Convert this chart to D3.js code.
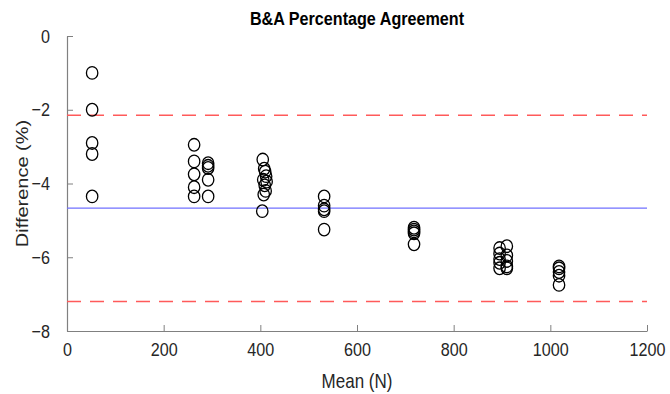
<!DOCTYPE html>
<html>
<head>
<meta charset="utf-8">
<script src="https://cdn.jsdelivr.net/npm/d3@7"></script>
<style>
  html, body { margin: 0; padding: 0; background: #fff; }
  svg { display: block; font-family: "Liberation Sans", Arial, sans-serif; }
</style>
</head>
<body>
<svg id="chart" width="670" height="394"></svg>
<script>
// Bland-Altman data: mean force (N) vs. percentage difference
const meanN = [
  52, 52, 52, 52, 52,
  263, 263, 263, 263, 263,
  292, 292, 292, 292, 292,
  405, 408, 410, 412, 406, 413, 409, 411, 407, 404,
  532, 532, 532, 532, 532,
  718, 718, 718, 718, 718,
  895, 895, 895, 895, 895,
  910, 910, 910, 910, 910,
  1018, 1018, 1018, 1018, 1018
];
const diffPct = [
  -1.0, -2.0, -2.9, -3.2, -4.35,
  -2.95, -3.4, -3.75, -4.1, -4.35,
  -3.45, -3.52, -3.58, -3.9, -4.35,
  -3.35, -3.6, -3.68, -3.8, -3.9, -3.95, -4.05, -4.2, -4.3, -4.75,
  -4.35, -4.6, -4.7, -4.75, -5.25,
  -5.2, -5.25, -5.3, -5.35, -5.65,
  -5.75, -5.9, -6.05, -6.15, -6.3,
  -5.7, -5.95, -6.1, -6.25, -6.3,
  -6.25, -6.3, -6.4, -6.5, -6.75
];
const meanBias = -4.67;
const limitsOfAgreement = [-2.15, -7.2];
const xTicks = [0, 200, 400, 600, 800, 1000, 1200];
const yTicks = [0, -2, -4, -6, -8];

const svg = d3.select("#chart");
const margin = { left: 67, right: 23, top: 36, bottom: 63 };
const W = 670, H = 394;
const squeeze = 0.85; // narrow glyph width used for all text

const x = d3.scaleLinear().domain([0, 1200]).range([margin.left, W - margin.right]);
const y = d3.scaleLinear().domain([-8, 0]).range([H - margin.bottom, margin.top]);

const axisColor = "#262626";
const lineGray = "#808080";

// Axes: inward ticks, left and bottom only
const xAxis = svg.append("g")
  .attr("transform", `translate(0,${y(-8)})`)
  .call(d3.axisBottom(x).tickValues(xTicks).tickFormat(d3.format("d"))
    .tickSizeInner(-6).tickSizeOuter(0).tickPadding(12));
const yAxis = svg.append("g")
  .attr("transform", `translate(${x(0)},0)`)
  .call(d3.axisLeft(y).tickValues(yTicks).tickFormat(d3.format("d"))
    .tickSizeInner(-6).tickSizeOuter(0));

[xAxis, yAxis].forEach(g => {
  g.select(".domain").attr("stroke", lineGray).attr("stroke-width", 1.2);
  g.selectAll(".tick line").attr("stroke", lineGray).attr("stroke-width", 1);
  g.selectAll(".tick text")
    .attr("fill", axisColor)
    .style("font-size", "19px")
    .style("font-family", "'Liberation Sans', Arial, sans-serif")
    .attr("transform", `scale(${squeeze},1)`);
});
yAxis.selectAll(".tick text").attr("x", -17 / squeeze);

// Reference lines: bias and limits of agreement
svg.append("line")
  .attr("x1", x(0)).attr("x2", x(1200))
  .attr("y1", y(meanBias)).attr("y2", y(meanBias))
  .attr("stroke", "#7070ff").attr("stroke-width", 1.2);

svg.selectAll(".loa")
  .data(limitsOfAgreement)
  .join("line")
  .attr("class", "loa")
  .attr("x1", x(0)).attr("x2", x(1200))
  .attr("y1", d => y(d)).attr("y2", d => y(d))
  .attr("stroke", "#ff5a5a").attr("stroke-width", 1.6)
  .attr("stroke-dasharray", "14,9");

// Points
svg.selectAll(".pt")
  .data(meanN.map((m, i) => [m, diffPct[i]]))
  .join("ellipse")
  .attr("class", "pt")
  .attr("cx", d => x(d[0]))
  .attr("cy", d => y(d[1]))
  .attr("rx", 5.7)
  .attr("ry", 6.3)
  .attr("fill", "none")
  .attr("stroke", "#000")
  .attr("stroke-width", 1.3);

// Title and axis labels
svg.append("text")
  .attr("transform", `translate(${x(600)},25) scale(${squeeze},1)`)
  .attr("text-anchor", "middle")
  .style("font-size", "19px").style("font-weight", "bold")
  .attr("fill", "#000")
  .text("B&A Percentage Agreement");

svg.append("text")
  .attr("transform", `translate(${x(600)},388) scale(${squeeze},1)`)
  .attr("text-anchor", "middle")
  .style("font-size", "20px")
  .attr("fill", axisColor)
  .text("Mean (N)");

svg.append("text")
  .attr("transform", `translate(28,${y(-4)}) rotate(-90) scale(1,${squeeze})`)
  .attr("text-anchor", "middle")
  .style("font-size", "20px")
  .attr("fill", axisColor)
  .text("Difference (%)");
</script>
</body>
</html>
